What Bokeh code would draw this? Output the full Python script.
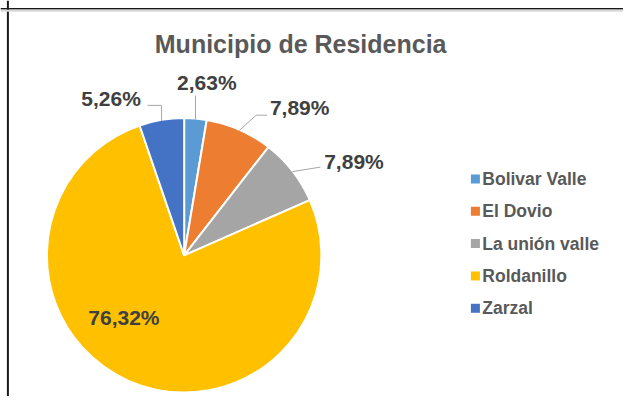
import math
from bokeh.plotting import figure
from bokeh.models import Range1d, Span, ColumnDataSource
from bokeh.core.properties import value
from bokeh.embed import file_html
from bokeh.resources import INLINE

# ---- data ----
categories = ["Bolivar Valle", "El Dovio", "La unión valle", "Roldanillo", "Zarzal"]
percentages = [2.63, 7.89, 7.89, 76.32, 5.26]
labels = ["2,63%", "7,89%", "7,89%", "76,32%", "5,26%"]
colors = ["#5B9BD5", "#ED7D31", "#A5A5A5", "#FFC000", "#4472C4"]
title_text = "Municipio de Residencia"

W, H = 623, 396
FONT = "Liberation Sans"

# layout space: reference picture pixels (0..631, 0..404), y negated
p = figure(width=W, height=H, output_backend="svg", toolbar_location=None,
           x_range=Range1d(0, 631), y_range=Range1d(-404, 0),
           min_border=0, min_border_left=0, min_border_right=0,
           min_border_top=0, min_border_bottom=0)
p.axis.visible = False
p.grid.visible = False
p.outline_line_color = None
p.background_fill_color = "white"
p.border_fill_color = "white"

cx, cy, r = 186, 260, 139

total = sum(percentages)
starts, ends, mids = [], [], []
acc = 0.0
for v in percentages:
    a0 = math.pi / 2 - 2 * math.pi * acc / total
    acc += v
    a1 = math.pi / 2 - 2 * math.pi * acc / total
    starts.append(a0)
    ends.append(a1)
    mids.append((a0 + a1) / 2)

src = ColumnDataSource(dict(start=starts, end=ends, color=colors))
p.wedge(x=cx, y=-cy, radius=r, start_angle="start", end_angle="end",
        direction="clock", fill_color="color", line_color="white",
        line_width=2, source=src)

def edge(i, rr=r):
    return cx + rr * math.cos(mids[i]), cy - rr * math.sin(mids[i])

leader_pts = {
    0: [(None, 97)],
    1: [(259, 117), (270, 117)],
    2: [(324, 170)],
    4: [(None, 107), (149, 107)],
}
for i, pts in leader_pts.items():
    ex, ey = edge(i)
    xs, ys = [ex], [ey]
    for (px, py) in pts:
        xs.append(ex if px is None else px)
        ys.append(py)
    p.line(xs, [-y for y in ys], line_color="#A6A6A6", line_width=1)

label_pos = [(209, 84), (303, 109), (358, 164), (125, 323), (112, 100)]
p.text(x=[lp[0] for lp in label_pos], y=[-lp[1] for lp in label_pos], text=labels,
       text_font=value(FONT), text_font_style="bold", text_font_size="21px",
       text_color="#404040", text_align="center", text_baseline="middle")

p.text(x=[304], y=[-44], text=[title_text], text_font=value(FONT),
       text_font_style="bold", text_font_size="25px", text_color="#595959",
       text_align="center", text_baseline="middle")

leg_y = [182 + 33 * i for i in range(len(categories))]
p.scatter(x=[481] * len(categories), y=[-y for y in leg_y], marker="square",
          size=9, fill_color=colors, line_color=None)
p.text(x=[488] * len(categories), y=[-y for y in leg_y], text=categories,
       text_font=value(FONT), text_font_style="bold", text_font_size="17.5px",
       text_color="#595959", text_align="left", text_baseline="middle")

# frame lines of the screenshot
p.add_layout(Span(location=7.5, dimension="height", line_color="#1a1a1a", line_width=2))
p.add_layout(Span(location=-8.5, dimension="width", line_color="#1a1a1a", line_width=1.5))
p.add_layout(Span(location=-10.5, dimension="width", line_color="#D9D9D9", line_width=2))

open("out.html", "w").write(file_html(p, INLINE))
